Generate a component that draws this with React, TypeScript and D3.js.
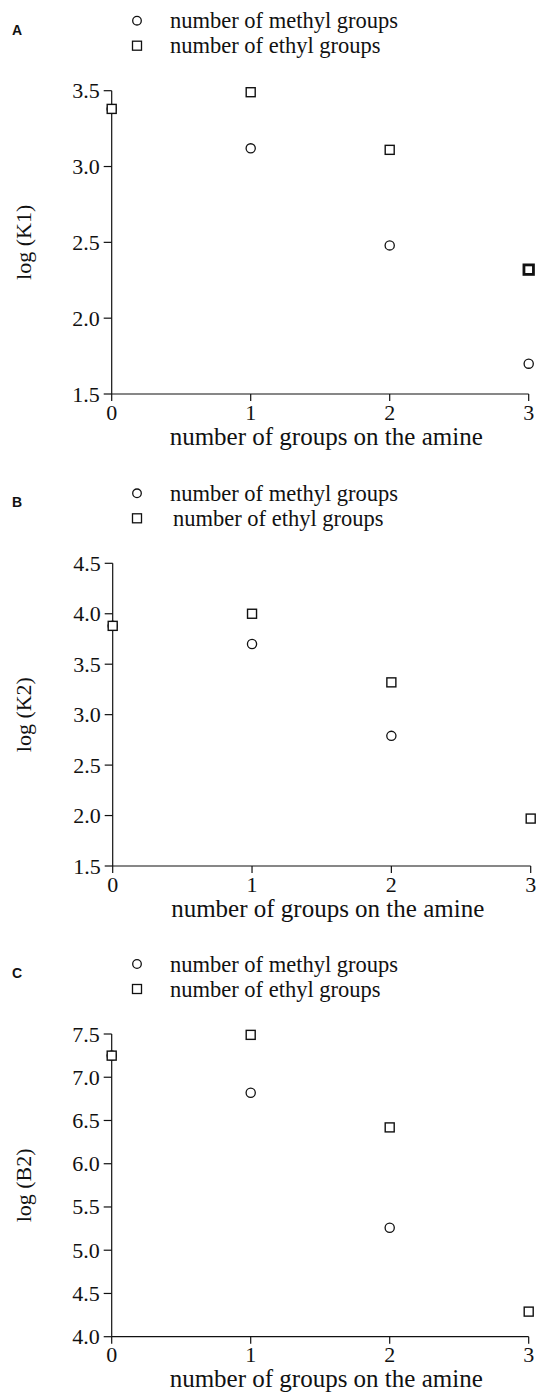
import React from "react";
import * as d3 from "d3";

const xCategories = [0, 1, 2, 3];
const xTickLabels = ["0", "1", "2", "3"];

const methylK1: (number | null)[] = [3.38, 3.12, 2.48, 1.7];
const ethylK1: (number | null)[] = [3.38, 3.49, 3.11, 2.32];
const ticksK1 = [1.5, 2.0, 2.5, 3.0, 3.5];

const methylK2: (number | null)[] = [3.88, 3.7, 2.79, null];
const ethylK2: (number | null)[] = [3.88, 4.0, 3.32, 1.97];
const ticksK2 = [1.5, 2.0, 2.5, 3.0, 3.5, 4.0, 4.5];

const methylB2: (number | null)[] = [7.25, 6.82, 5.26, null];
const ethylB2: (number | null)[] = [7.25, 7.49, 6.42, 4.29];
const ticksB2 = [4.0, 4.5, 5.0, 5.5, 6.0, 6.5, 7.0, 7.5];

const legendLabels = ["number of methyl groups", "number of ethyl groups"];
const xTitle = "number of groups on the amine";

const FONT = "'Liberation Serif', 'Times New Roman', serif";
const INK = "#111";

type PanelProps = {
  letter: string;
  yLabel: string;
  methyl: (number | null)[];
  ethyl: (number | null)[];
  ticks: number[];
  x0: number;
  x1: number;
  yTop: number;
  yBottom: number;
  boldLast?: boolean;
  legendIndent?: number;
};

function Panel(p: PanelProps) {
  const x = d3.scaleLinear().domain([0, 3]).range([p.x0, p.x1]);
  const y = d3
    .scaleLinear()
    .domain([p.ticks[0], p.ticks[p.ticks.length - 1]])
    .range([p.yBottom, p.yTop]);
  const fmt = d3.format(".1f");
  const legendY1 = p.yTop - 70;
  const legendY2 = p.yTop - 45;
  const midY = (p.yTop + p.yBottom) / 2;
  const indent = p.legendIndent || 0;
  return (
    <g>
      {/* panel letter */}
      <text
        x={12}
        y={legendY1 + 14}
        fontFamily="'Liberation Sans', Arial, sans-serif"
        fontWeight="bold"
        fontSize={14}
        fill={INK}
      >
        {p.letter}
      </text>
      {/* legend */}
      <circle cx={137} cy={legendY1} r={4.3} fill="none" stroke={INK} strokeWidth={1.3} />
      <text x={170} y={legendY1} dominantBaseline="central" fontFamily={FONT} fontSize={22.5} fill={INK}>
        {legendLabels[0]}
      </text>
      <rect x={132.5} y={legendY2 - 4.5} width={9} height={9} fill="none" stroke={INK} strokeWidth={1.3} />
      <text
        x={170 + indent}
        y={legendY2}
        dominantBaseline="central"
        fontFamily={FONT}
        fontSize={22.5}
        fill={INK}
      >
        {legendLabels[1]}
      </text>

      {/* axes */}
      <line x1={p.x0} x2={p.x0} y1={y.range()[1]} y2={y.range()[0]} stroke={INK} strokeWidth={1.2} />
      <line x1={p.x0} x2={p.x1} y1={y.range()[0]} y2={y.range()[0]} stroke={INK} strokeWidth={1.2} />
      {p.ticks.map((t) => (
        <g key={"yt" + t}>
          <line x1={p.x0 - 8} x2={p.x0} y1={y(t)} y2={y(t)} stroke={INK} strokeWidth={1.2} />
          <text
            x={p.x0 - 12}
            y={y(t)}
            textAnchor="end"
            dominantBaseline="central"
            fontFamily={FONT}
            fontSize={22}
            fill={INK}
          >
            {fmt(t)}
          </text>
        </g>
      ))}
      {xCategories.map((c, i) => (
        <g key={"xt" + c}>
          <line x1={x(c)} x2={x(c)} y1={p.yBottom} y2={p.yBottom + 7} stroke={INK} strokeWidth={1.2} />
          <text
            x={x(c)}
            y={p.yBottom + 18}
            textAnchor="middle"
            dominantBaseline="central"
            fontFamily={FONT}
            fontSize={22}
            fill={INK}
          >
            {xTickLabels[i]}
          </text>
        </g>
      ))}
      <text
        x={(p.x0 + p.x1) / 2 + 6}
        y={p.yBottom + 42}
        textAnchor="middle"
        dominantBaseline="central"
        fontFamily={FONT}
        fontSize={25}
        fill={INK}
      >
        {xTitle}
      </text>
      <text
        transform={`translate(23,${midY}) rotate(-90)`}
        textAnchor="middle"
        dominantBaseline="central"
        fontFamily={FONT}
        fontSize={22}
        fill={INK}
      >
        {p.yLabel}
      </text>

      {/* data */}
      {p.methyl.map((v, i) =>
        v == null ? null : (
          <circle
            key={"m" + i}
            cx={x(xCategories[i])}
            cy={y(v)}
            r={4.6}
            fill="none"
            stroke={INK}
            strokeWidth={1.3}
          />
        )
      )}
      {p.ethyl.map((v, i) => {
        if (v == null) return null;
        const bold = p.boldLast && i === p.ethyl.length - 1;
        const s = bold ? 9.5 : 9;
        return (
          <rect
            key={"e" + i}
            x={x(xCategories[i]) - s / 2}
            y={y(v) - s / 2}
            width={s}
            height={s}
            fill={i === 0 ? "#fff" : "none"}
            stroke={INK}
            strokeWidth={bold ? 2.8 : 1.4}
          />
        );
      })}
    </g>
  );
}

export default function App() {
  return (
    <svg
      width={539}
      height={1397}
      style={{ position: "absolute", left: 0, top: 0, background: "#fff" }}
    >
      <rect width={539} height={1397} fill="#fff" />
      <Panel
        letter="A"
        yLabel="log (K1)"
        methyl={methylK1}
        ethyl={ethylK1}
        ticks={ticksK1}
        x0={111.7}
        x1={528.7}
        yTop={90.7}
        yBottom={394}
        boldLast
      />
      <Panel
        letter="B"
        yLabel="log (K2)"
        methyl={methylK2}
        ethyl={ethylK2}
        ticks={ticksK2}
        x0={112.7}
        x1={530.7}
        yTop={563.3}
        yBottom={866}
        legendIndent={3}
      />
      <Panel
        letter="C"
        yLabel="log (B2)"
        methyl={methylB2}
        ethyl={ethylB2}
        ticks={ticksB2}
        x0={111.7}
        x1={528.7}
        yTop={1034}
        yBottom={1336.7}
      />
    </svg>
  );
}
